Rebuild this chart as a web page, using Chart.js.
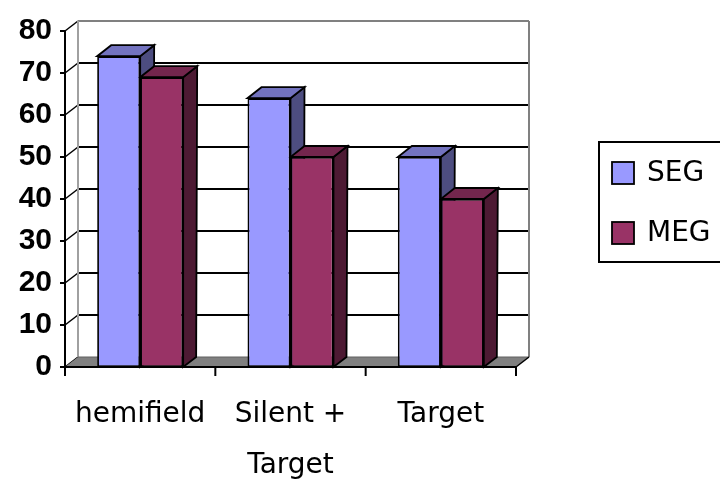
<!DOCTYPE html>
<html>
<head>
<meta charset="utf-8">
<script src="https://cdn.jsdelivr.net/npm/chart.js@4.4.1/dist/chart.umd.min.js"></script>
<style>
  html, body { margin: 0; padding: 0; background: #fff; }
  #wrap { width: 720px; height: 483px; }
</style>
</head>
<body>
<div id="wrap"><canvas id="chart" width="720" height="483"></canvas></div>
<script>
  // data
  const categories = ['hemifield', ['Silent +', 'Target'], 'Target'];
  const seriesNames = ['SEG', 'MEG'];
  const segValues = [74, 64, 50];
  const megValues = [69, 50, 40];
  const yMin = 0, yMax = 80, yStep = 10;

  // 3d look: front / top / side shades
  const shades = {
    SEG: { front: '#9999FF', top: '#7373BF', side: '#4D4D80' },
    MEG: { front: '#993366', top: '#73264D', side: '#4D1A33' }
  };
  const DX = 13, DY = -10;   // wall / floor depth
  const BDX = 14, BDY = -11; // bar depth at the top

  function poly(ctx, pts, fill, stroke, lw) {
    ctx.beginPath();
    ctx.moveTo(pts[0][0], pts[0][1]);
    for (let i = 1; i < pts.length; i++) ctx.lineTo(pts[i][0], pts[i][1]);
    ctx.closePath();
    if (fill) { ctx.fillStyle = fill; ctx.fill(); }
    if (stroke) { ctx.strokeStyle = stroke; ctx.lineWidth = lw || 1.5; ctx.stroke(); }
  }
  function line(ctx, x1, y1, x2, y2, color, lw) {
    ctx.beginPath();
    ctx.moveTo(x1, y1);
    ctx.lineTo(x2, y2);
    ctx.strokeStyle = color;
    ctx.lineWidth = lw || 1.5;
    ctx.stroke();
  }

  const box3d = {
    id: 'box3d',
    beforeDatasetsDraw(chart) {
      const ctx = chart.ctx, ys = chart.scales.y, a = chart.chartArea;
      const L = a.left, R = a.right;
      const T = ys.getPixelForValue(yMax), B = ys.getPixelForValue(yMin);
      ctx.save();
      // back wall
      poly(ctx, [[L + DX, T + DY], [R + DX, T + DY], [R + DX, B + DY], [L + DX, B + DY]], '#fff');
      for (let v = yMin; v <= yMax; v += yStep) {
        const y = ys.getPixelForValue(v);
        if (v > yMin && v < yMax) line(ctx, L + DX, y + DY, R + DX, y + DY, '#000', 2);
        line(ctx, L, y, L + DX, y + DY, '#000', 1.5);
        line(ctx, L - 5, y, L, y, '#000', 2);
      }
      line(ctx, L + DX, T + DY, R + DX, T + DY, '#808080', 2);
      line(ctx, L + DX, T + DY, L + DX, B + DY, '#a0a0a0', 2);
      line(ctx, R + DX, T + DY, R + DX, B + DY, '#808080', 2);
      // floor
      poly(ctx, [[L, B], [R, B], [R + DX, B + DY], [L + DX, B + DY]], '#808080');
      line(ctx, L + DX, B + DY, R + DX, B + DY, '#606060', 1);
      // depth faces of the bars, painter's order
      const metas = chart.data.datasets.map((d, i) => chart.getDatasetMeta(i));
      for (let j = 0; j < categories.length; j++) {
        metas.forEach((meta, i) => {
          const el = meta.data[j];
          const s = shades[chart.data.datasets[i].label];
          const l = el.x - el.width / 2, r = el.x + el.width / 2;
          poly(ctx, [[r, el.y], [r + BDX, el.y + BDY], [r + DX, el.base + DY], [r, el.base]], s.side, '#000', 1.8);
          poly(ctx, [[l, el.y], [r, el.y], [r + BDX, el.y + BDY], [l + BDX, el.y + BDY]], s.top, '#000', 1.8);
        });
      }
      ctx.restore();
    },
    afterDatasetsDraw(chart) {
      const ctx = chart.ctx, ys = chart.scales.y, a = chart.chartArea;
      const L = a.left, R = a.right;
      const T = ys.getPixelForValue(yMax), B = ys.getPixelForValue(yMin);
      ctx.save();
      line(ctx, L, T, L, B, '#000', 2);
      line(ctx, L, B, R, B, '#000', 2);
      line(ctx, R, B, R + DX, B + DY, '#000', 1.5);
      const step = (R - L) / categories.length;
      for (let k = 0; k <= categories.length; k++) {
        const x = L + k * step;
        line(ctx, x, B, x, B + 9, '#000', 2);
      }
      // legend
      const lx = 599, ly = 142;
      ctx.strokeStyle = '#000';
      ctx.lineWidth = 2;
      ctx.strokeRect(lx, ly, 140, 120);
      ctx.font = '28px "DejaVu Sans"';
      ctx.textBaseline = 'middle';
      ctx.textAlign = 'left';
      chart.data.datasets.forEach((d, i) => {
        const cy = 173 + i * 60;
        ctx.fillStyle = d.backgroundColor;
        ctx.fillRect(612, cy - 11, 22, 22);
        ctx.lineWidth = 1.8;
        ctx.strokeRect(612, cy - 11, 22, 22);
        ctx.fillStyle = '#000';
        ctx.fillText(d.label, 647, cy + 1);
      });
      ctx.restore();
    }
  };

  new Chart(document.getElementById('chart'), {
    type: 'bar',
    data: {
      labels: categories,
      datasets: [
        { label: seriesNames[0], data: segValues, backgroundColor: shades.SEG.front },
        { label: seriesNames[1], data: megValues, backgroundColor: shades.MEG.front }
      ]
    },
    options: {
      responsive: false,
      devicePixelRatio: 1,
      animation: false,
      layout: { padding: { top: 24, right: 204, left: 0, bottom: 0 } },
      datasets: {
        bar: {
          borderColor: '#000',
          borderWidth: 1.8,
          borderSkipped: false,
          categoryPercentage: 0.572,
          barPercentage: 1
        }
      },
      plugins: { legend: { display: false }, tooltip: { enabled: false } },
      scales: {
        x: {
          grid: { display: false, drawTicks: false },
          border: { display: false },
          ticks: {
            color: '#000',
            padding: 23,
            maxRotation: 0,
            autoSkip: false,
            font: { family: 'DejaVu Sans', size: 28, lineHeight: 1.8 }
          },
          afterFit: (s) => { s.height = 116; }
        },
        y: {
          min: yMin,
          max: yMax,
          grid: { display: false, drawTicks: false },
          border: { display: false },
          ticks: {
            stepSize: yStep,
            color: '#000',
            padding: 13,
            font: { family: 'Liberation Sans', size: 30, weight: 'bold' }
          },
          afterFit: (s) => { s.width = 65; }
        }
      }
    },
    plugins: [box3d]
  });
</script>
</body>
</html>
